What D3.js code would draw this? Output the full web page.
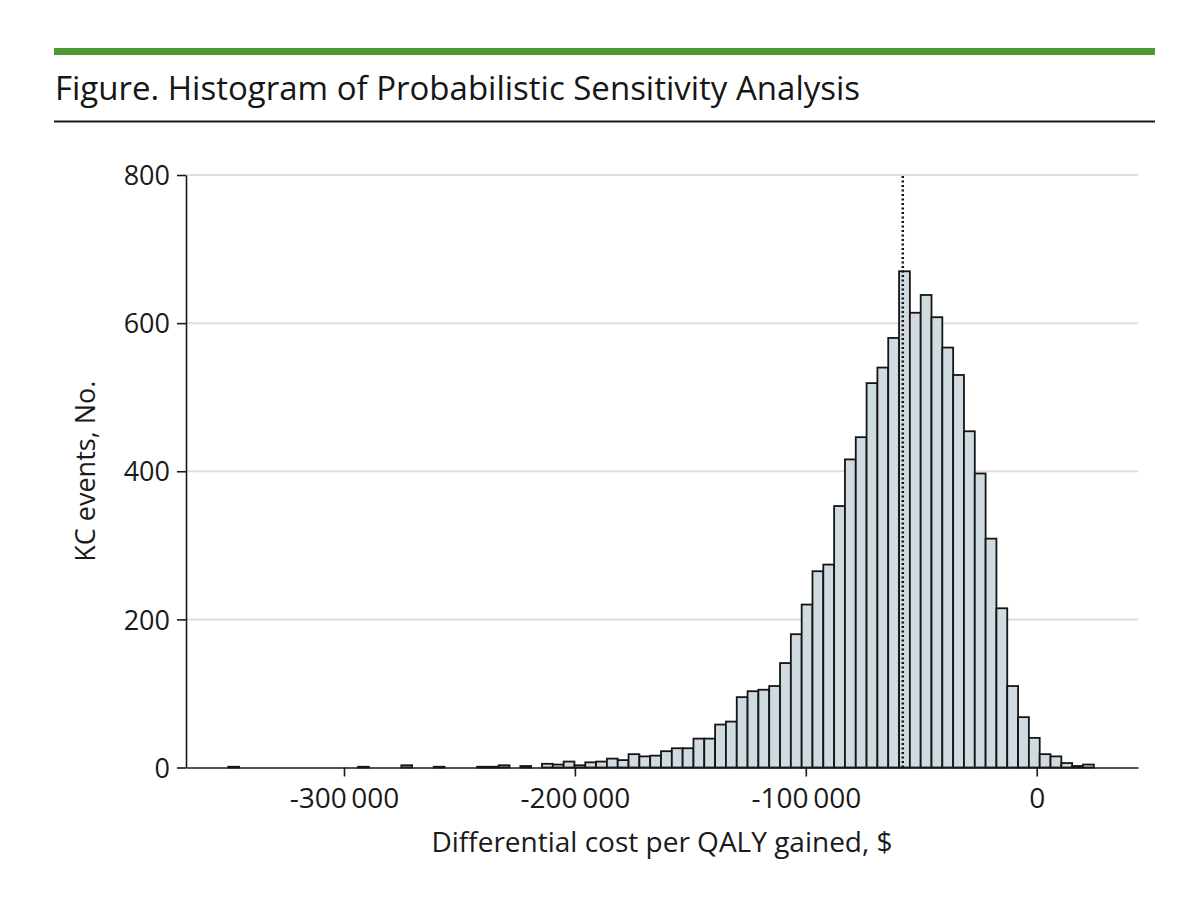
<!DOCTYPE html>
<html><head><meta charset="utf-8">
<script src="https://cdn.jsdelivr.net/npm/d3@7"></script>
<style>
html,body{margin:0;padding:0;background:#fff;}
svg{display:block;font-family:"Open Sans",sans-serif;}
</style></head>
<body>
<svg id="chart" width="1200" height="897"></svg>
<script>
// ---- data ----
const binStart = -350150;       // lower edge of first bin
const binWidth = 4686;          // width of each bin ($)
const counts = [
  1,0,0,0,0,0,0,0,0,0,
  0,0,1,0,0,0,3,0,0,1,
  0,0,0,1,1,3,0,2,0,5,
  4,8,3,7,8,12,10,18,15,16,
  22,26,26,39,39,58,62,95,103,105,
  110,141,180,220,265,274,353,416,446,519,
  540,580,670,614,638,608,567,530,454,397,
  309,215,110,68,40,18,15,6,2,4
];
const meanLine = -58000;
const xTicks = [-300000, -200000, -100000, 0];
const yTicks = [0, 200, 400, 600, 800];
const titleText = "Figure. Histogram of Probabilistic Sensitivity Analysis";
const xTitle = "Differential cost per QALY gained, $";
const yTitle = "KC events, No.";

// ---- chart ----
(function () {
const svg = d3.select("#chart");
const pL = 186, pR = 1138, pT = 175, pB = 767.5;

const x = d3.scaleLinear().domain([-368430, 43870]).range([pL, pR]);
const y = d3.scaleLinear().domain([0, 800]).range([pB, pT]);

// header
svg.append("rect").attr("x", 54).attr("y", 48).attr("width", 1101).attr("height", 7).attr("fill", "#4b9a34");
svg.append("text").attr("x", 55).attr("y", 100).attr("font-size", 33).attr("font-weight", 500).attr("fill", "#161616")
  .text(titleText);
svg.append("rect").attr("x", 54).attr("y", 120.5).attr("width", 1101).attr("height", 2).attr("fill", "#1a1a1a");

// gridlines
svg.append("g").selectAll("line").data(yTicks.filter(d => d > 0)).join("line")
  .attr("x1", pL).attr("x2", pR)
  .attr("y1", d => y(d)).attr("y2", d => y(d))
  .attr("stroke", "#dedede").attr("stroke-width", 2);

// bars
const bins = counts.map((c, i) => ({x0: binStart + i * binWidth, x1: binStart + (i + 1) * binWidth, c}));
svg.append("g").selectAll("rect").data(bins.filter(b => b.c > 0)).join("rect")
  .attr("x", d => x(d.x0)).attr("width", d => x(d.x1) - x(d.x0))
  .attr("y", d => y(d.c)).attr("height", d => y(0) - y(d.c))
  .attr("fill", "#cfdbe0").attr("stroke", "#151515").attr("stroke-width", 1.8);

// mean line
svg.append("line").attr("x1", x(meanLine)).attr("x2", x(meanLine))
  .attr("y1", y(0)).attr("y2", y(800))
  .attr("stroke", "#111").attr("stroke-width", 2.5).attr("stroke-dasharray", "2,2.5");

// axes
const fmt = d => d === 0 ? "0" : (d < 0 ? "-" : "") + d3.format(",")(Math.abs(d)).replace(/,/g, "\u2009");
const xAxis = svg.append("g").attr("transform", `translate(0,${pB})`)
  .call(d3.axisBottom(x).tickValues(xTicks).tickSize(9).tickPadding(8).tickFormat(fmt).tickSizeOuter(0));
const yAxis = svg.append("g").attr("transform", `translate(${pL},0)`)
  .call(d3.axisLeft(y).tickValues(yTicks).tickSize(9).tickPadding(7).tickSizeOuter(0));
[xAxis, yAxis].forEach(a => {
  a.select(".domain").attr("stroke", "#1a1a1a").attr("stroke-width", 1.6);
  a.selectAll(".tick line").attr("stroke", "#1a1a1a").attr("stroke-width", 1.6);
  a.selectAll(".tick text").attr("font-family", "Open Sans, sans-serif").attr("fill", "#1a1a1a");
});
xAxis.selectAll(".tick text").attr("font-size", 28).attr("dy", "0.84em");
yAxis.selectAll(".tick text").attr("font-size", 27).attr("dy", "0.36em");

// axis titles
svg.append("text").attr("x", (pL + pR) / 2).attr("y", 852).attr("text-anchor", "middle")
  .attr("font-size", 28).attr("fill", "#1a1a1a").text(xTitle);
svg.append("text").attr("transform", `translate(95,${(pT + pB) / 2}) rotate(-90)`)
  .attr("text-anchor", "middle").attr("font-size", 27).attr("fill", "#1a1a1a").text(yTitle);
})();
</script>
</body></html>
